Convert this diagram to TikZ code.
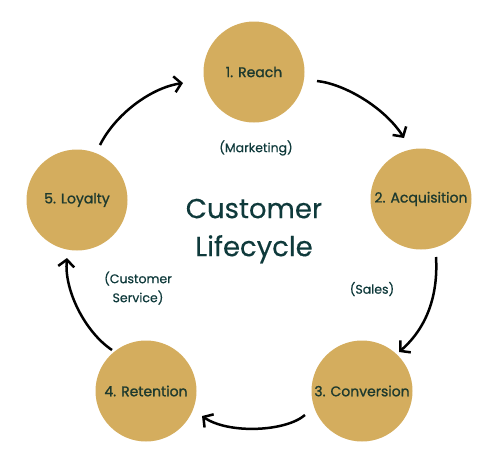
\documentclass[tikz,border=0pt]{standalone}
\usepackage{fontspec}
\setmainfont{Poppins}
\newfontfamily\labfont{Poppins}[FakeBold=1.2]
\newfontfamily\subfont{Poppins}[FakeBold=0.5]
\newfontfamily\titfont{Poppins}[FakeBold=0.3]
\usetikzlibrary{arrows.meta}
\definecolor{gold}{HTML}{D4AD5E}
\definecolor{labtext}{HTML}{1E3A2E}
\definecolor{titletext}{HTML}{0F3A3B}
\tikzset{
  stage/.style={circle, fill=gold, minimum size=101pt, inner sep=0pt, text=labtext, font=\labfont\fontsize{14}{16}\selectfont},
  sub/.style={text=titletext, font=\subfont\fontsize{12.5}{19}\selectfont, align=center},
  flow/.style={line width=2.5pt, -{Straight Barb[length=7pt,width=16pt]}}
}
\begin{document}
\begin{tikzpicture}[x=1pt,y=-1pt]
\useasboundingbox (0,0) rectangle (500,464);
\node[stage] (c1) at (254,72) {1. Reach};
\node[stage] (c2) at (421,199) {2. Acquisition};
\node[stage] (c3) at (362,391) {3. Conversion};
\node[stage] (c4) at (146,391) {4. Retention};
\node[stage] (c5) at (77,200) {5. Loyalty};
\node[text=titletext, font=\titfont\fontsize{27.5}{38}\selectfont, align=center] (title) at (254,231) {Customer\\Lifecycle};
\node[sub] (mkt) at (256,148) {(Marketing)};
\node[sub] (sales) at (372,289) {(Sales)};
\node[sub] (cs) at (138,288) {(Customer\\Service)};
\coordinate (a1s) at (317,81);  \coordinate (a1e) at (404,138);
\coordinate (a2s) at (436,257); \coordinate (a2e) at (399,352);
\coordinate (a3s) at (305,415); \coordinate (a3e) at (202,416);
\coordinate (a4s) at (112,350); \coordinate (a4e) at (67,258);
\coordinate (a5s) at (100,145); \coordinate (a5e) at (183,83);
\draw[flow] (a1s) .. controls (345,84) and (385,108) .. (a1e);
\draw[flow] (a2s) .. controls (438,290) and (430,325) .. (a2e);
\draw[flow] (a3s) .. controls (285,432) and (228,434) .. (a3e);
\draw[flow] (a4s) .. controls (85,332) and (64,290) .. (a4e);
\draw[flow] (a5s) .. controls (115,115) and (150,88) .. (a5e);
\end{tikzpicture}
\end{document}
